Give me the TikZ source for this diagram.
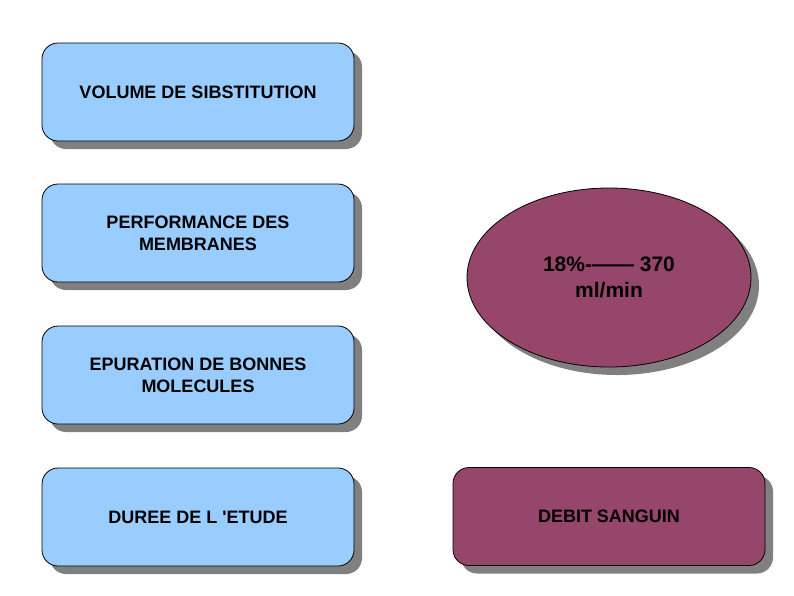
\documentclass[tikz,border=0pt]{standalone}
\usepackage{fontspec}
\setmainfont{Liberation Sans}
\usepackage{tikz}
\usetikzlibrary{shapes.geometric,shadows}

\definecolor{skyblue}{RGB}{153,204,255}
\definecolor{plum}{RGB}{150,70,106}

\begin{document}
\begin{tikzpicture}[x=1pt, y=-1pt,
  every node/.style = {draw, line width=0.8pt, align=center,
    font=\fontsize{18}{22}\selectfont\bfseries,
    drop shadow={shadow xshift=8pt, shadow yshift=-8pt,
      fill=gray, opacity=1}},
  factor/.style = {shape=rectangle, rounded corners=16pt,
    minimum width=312pt, minimum height=98pt, fill=skyblue},
  result/.style = {fill=plum}]
  \useasboundingbox (0,0) rectangle (794,595);
  % left column
  \node[factor] (volume) at (198,92) {VOLUME DE SIBSTITUTION};
  \node[factor] (membranes) at (198,233) {PERFORMANCE DES\\MEMBRANES};
  \node[factor] (epuration) at (198,375) {EPURATION DE BONNES\\MOLECULES};
  \node[factor] (duree) at (198,517) {DUREE DE L \textquotesingle ETUDE};
  % right column
  \node[result, ellipse, inner sep=0pt, minimum width=284pt,
    minimum height=179pt, font=\fontsize{21}{26}\selectfont\bfseries]
    (taux) at (609,277.5) {18\%-—— 370\\ml/min};
  \node[factor, result] (debit) at (609,516.5) {DEBIT SANGUIN};
\end{tikzpicture}
\end{document}
